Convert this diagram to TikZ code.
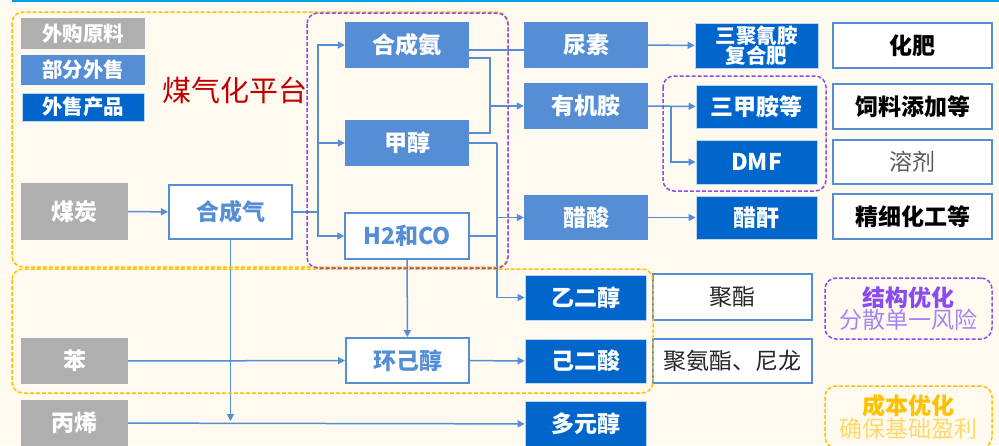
\documentclass[tikz,border=0pt]{standalone}
\usepackage{fontspec}
\setmainfont{Noto Sans CJK SC}
\usetikzlibrary{arrows.meta}

\definecolor{bgcream}{HTML}{FFFAF0}
\definecolor{topcyan}{HTML}{00A0E8}
\definecolor{rawgray}{HTML}{AFAFAF}
\definecolor{partblue}{HTML}{558ED5}
\definecolor{saleblue}{HTML}{0066CC}
\definecolor{saleedge}{HTML}{BDD7EE}
\definecolor{titlered}{HTML}{C00000}
\definecolor{zonepurple}{HTML}{8A4BF0}
\definecolor{lightpurple}{HTML}{A585F5}
\definecolor{zoneyellow}{HTML}{FFC000}
\definecolor{lightyellow}{HTML}{FFD966}

\begin{document}
\begin{tikzpicture}[x=1pt, y=-1pt,
		base_style/.style={minimum width=124pt, minimum height=46pt, inner sep=0pt, align=center,
			font=\fontsize{23}{25}\selectfont\bfseries},
		raw_style/.style={base_style, fill=rawgray, text=white},
		part_style/.style={base_style, fill=partblue, text=white},
		sale_style/.style={base_style, minimum width=121pt, fill=saleblue, draw=saleedge, line width=0.8pt, text=white},
		mid_style/.style={base_style, fill=white, draw=partblue, line width=2pt, text=partblue},
		use_style/.style={base_style, minimum width=159pt, fill=white, draw=partblue, line width=1.5pt, text=black},
		link_style/.style={draw=partblue, line width=1.5pt},
		arrow_style/.style={link_style, -{Triangle[length=7pt,width=7pt]}},
		zone_style/.style={dash pattern=on 4pt off 2pt, line width=1.5pt, rounded corners=11pt}]

		\useasboundingbox (0,0) rectangle (999,445);
		\fill[bgcream] (0,0) rectangle (999,445);
		\draw[topcyan, line width=2pt] (12,1) -- (999,1);

		% legend
		\node[raw_style, minimum width=124pt, minimum height=31pt, font=\fontsize{20.5}{22}\selectfont\bfseries] (lgraw) at (83,33.5) {外购原料};
		\node[part_style, minimum width=124pt, minimum height=30pt, font=\fontsize{20.5}{22}\selectfont\bfseries] (lgpart) at (83,70) {部分外售};
		\node[sale_style, minimum width=122pt, minimum height=28pt, font=\fontsize{20.5}{22}\selectfont\bfseries] (lgsale) at (83,107) {外售产品};
		\node[text=titlered, font=\fontsize{29}{31}\selectfont] (title) at (235,90) {煤气化平台};

		% raw materials
		\node[raw_style, minimum width=107pt, minimum height=57pt] (coal) at (74.5,211.5) {煤炭};
		\node[raw_style, minimum width=107pt] (benz) at (74.5,361) {苯};
		\node[raw_style, minimum width=107pt] (prop) at (74.5,423) {丙烯};

		% gasification platform
		\node[mid_style, minimum width=123pt, minimum height=54pt] (syngas) at (230.5,212) {合成气};
		\node[part_style] (nh3) at (407,45) {合成氨};
		\node[part_style] (meoh) at (407,143) {甲醇};
		\node[mid_style, line width=1.5pt] (h2co) at (407,236) {H2和CO};
		\node[mid_style, minimum width=123pt, minimum height=45pt] (cyol) at (407.5,360.5) {环己醇};

		% intermediates
		\node[part_style] (urea) at (586,45) {尿素};
		\node[part_style] (amine) at (586,106) {有机胺};
		\node[part_style, minimum height=45pt] (hac) at (586,217.5) {醋酸};
		\node[sale_style, minimum height=45pt] (meg) at (585.5,297.5) {乙二醇};
		\node[sale_style, minimum height=44pt] (ada) at (585.5,361) {己二酸};
		\node[sale_style] (polyol) at (585.5,424) {多元醇};

		% products
		\node[sale_style, minimum width=123pt, minimum height=45pt, font=\fontsize{20.5}{22}\selectfont\bfseries] (mel) at (756.5,45.5) {三聚氰胺\\[-2pt]复合肥};
		\node[sale_style, minimum height=43pt] (tma) at (756.5,106.5) {三甲胺等};
		\node[sale_style, minimum height=44pt] (dmf) at (756.5,162) {DMF};
		\node[sale_style, minimum height=43pt] (ac2o) at (756.5,217.5) {醋酐};

		% applications
		\node[use_style, minimum height=45pt] (fert) at (912.5,45.5) {化肥};
		\node[use_style, minimum height=45pt] (feed) at (912.5,106.5) {饲料添加等};
		\node[use_style, minimum height=44pt, text=black!65, font=\fontsize{23}{25}\selectfont] (solv) at (912.5,162) {溶剂};
		\node[use_style, minimum height=45pt] (fine) at (912.5,216.5) {精细化工等};
		\node[use_style, text=black!85, font=\fontsize{23}{25}\selectfont] (pet) at (732.5,297) {聚酯};
		\node[use_style, minimum height=44pt, text=black!85, font=\fontsize{23}{25}\selectfont] (pu) at (732.5,361) {聚氨酯、尼龙};

		% junctions
		\coordinate (bus) at (318,212);
		\coordinate (amj) at (490,106);
		\coordinate (mbus) at (497,143);
		\coordinate (dj) at (671,106);

		\draw[arrow_style] (coal) -- (syngas);
		\draw[link_style] (syngas.east) -- (bus);
		\draw[arrow_style] (bus) |- (nh3);
		\draw[arrow_style] (bus) |- (meoh);
		\draw[arrow_style] (bus) |- (h2co);
		\draw[link_style] ([yshift=-5pt]nh3.east) -- ([yshift=-5pt]nh3.east -| urea.west);
		\draw[link_style] ([yshift=-13pt]nh3.east) -| (amj);
		\draw[link_style] ([yshift=10pt]meoh.east) -| (amj);
		\draw[arrow_style] (amj) -- (amine);
		\draw[link_style] (meoh.east) -- (mbus);
		\draw[arrow_style] (mbus) |- (meg);
		\draw[arrow_style] (mbus |- hac) -- (hac);
		\draw[link_style] (h2co.east) -- (h2co.east -| mbus);
		\draw[arrow_style] (h2co) -- (cyol);
		\draw[arrow_style] (syngas.south) -- ([yshift=2pt]syngas.south |- prop.east);
		\draw[arrow_style] (prop) -- (polyol);
		\draw[arrow_style] (benz) -- (cyol);
		\draw[arrow_style] (cyol) -- (ada);
		\draw[arrow_style] (urea) -- (mel);
		\draw[arrow_style] (amine) -- (tma);
		\draw[arrow_style] (dj) |- (dmf);
		\draw[arrow_style] (hac) -- (ac2o);

		% zones
		\draw[zone_style, zoneyellow] (12,12) rectangle (508,267);
		\draw[zone_style, zoneyellow] (12,269) rectangle (653,393);
		\draw[zone_style, zonepurple] (307,13) rectangle (508,268);
		\draw[zone_style, zonepurple] (663,76) rectangle (826,191);

		% notes
		\node[zone_style, draw=zonepurple, minimum width=167pt, minimum height=61pt, inner sep=0pt, align=center] (structnote) at (908.5,308.5)
			{{\color{zonepurple}\fontsize{23}{26}\selectfont\bfseries 结构优化}\\{\color{lightpurple}\fontsize{23}{26}\selectfont 分散单一风险}};
		\node[zone_style, draw=zoneyellow, minimum width=167pt, minimum height=62pt, inner sep=0pt, align=center] (costnote) at (908.5,417)
			{{\color{zoneyellow}\fontsize{23}{26}\selectfont\bfseries 成本优化}\\{\color{lightyellow}\fontsize{23}{26}\selectfont 确保基础盈利}};

\end{tikzpicture}
\end{document}
